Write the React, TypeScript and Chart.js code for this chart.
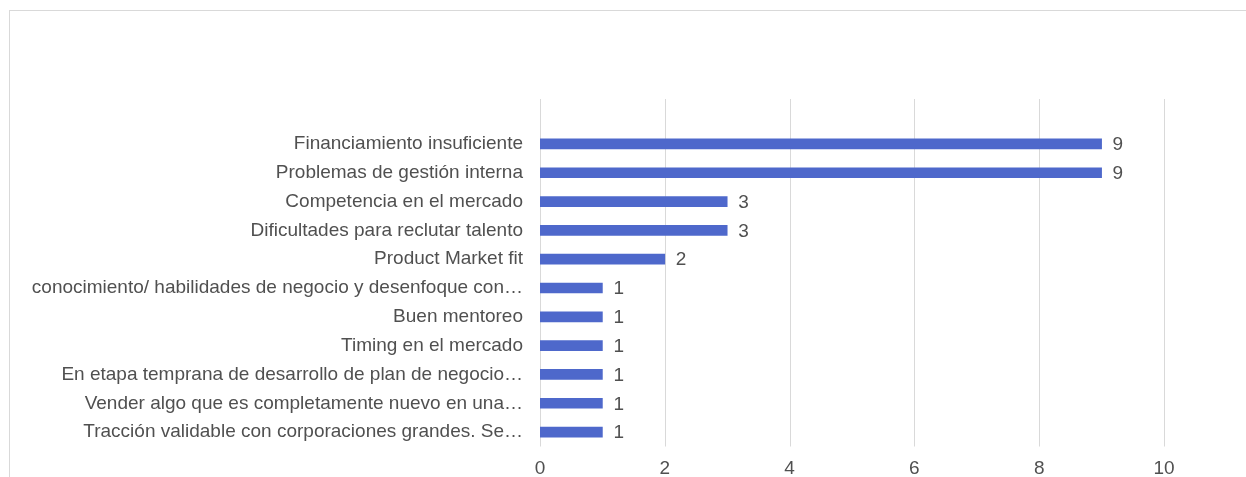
import React, { useEffect, useRef } from "react";
import { Chart, registerables } from "chart.js";

Chart.register(...registerables);

const categories: string[] = [
  "Financiamiento insuficiente",
  "Problemas de gestión interna",
  "Competencia en el mercado",
  "Dificultades para reclutar talento",
  "Product Market fit",
  "conocimiento/ habilidades de negocio y desenfoque con…",
  "Buen mentoreo",
  "Timing en el mercado",
  "En etapa temprana de desarrollo de plan de negocio…",
  "Vender algo que es completamente nuevo en una…",
  "Tracción validable con corporaciones grandes. Se…",
];

const values: number[] = [9, 9, 3, 3, 2, 1, 1, 1, 1, 1, 1];

const xTicks: number[] = [0, 2, 4, 6, 8, 10];

const FONT = "'Liberation Sans', Arial, sans-serif";
const TEXT = "#505050";
const GRID = "#d9d9d9";
const BAR = "#4e68cb";

export default function App() {
  const ref = useRef<HTMLCanvasElement | null>(null);

  useEffect(() => {
    document.body.style.margin = "0";
    const canvas = ref.current;
    if (!canvas) return;

    const framePlugin = {
      id: "frame",
      beforeDraw(chart: any) {
        const ctx = chart.ctx;
        ctx.save();
        ctx.fillStyle = "#ffffff";
        ctx.fillRect(0, 0, chart.width, chart.height);
        ctx.strokeStyle = GRID;
        ctx.lineWidth = 1;
        ctx.strokeRect(9.5, 10.5, chart.width + 20, chart.height + 20);
        ctx.restore();
      },
    };

    const gridPlugin = {
      id: "vgrid",
      beforeDatasetsDraw(chart: any) {
        const ctx = chart.ctx;
        const xs = chart.scales.x;
        const area = chart.chartArea;
        ctx.save();
        ctx.strokeStyle = GRID;
        ctx.lineWidth = 1;
        xTicks.forEach((v) => {
          const px = Math.round(xs.getPixelForValue(v)) + 0.5;
          ctx.beginPath();
          ctx.moveTo(px, 99);
          ctx.lineTo(px, area.bottom);
          ctx.stroke();
        });
        ctx.restore();
      },
    };

    const labelPlugin = {
      id: "valueLabels",
      afterDatasetsDraw(chart: any) {
        const ctx = chart.ctx;
        const meta = chart.getDatasetMeta(0);
        ctx.save();
        ctx.font = `19px ${FONT}`;
        ctx.fillStyle = TEXT;
        ctx.textAlign = "left";
        ctx.textBaseline = "middle";
        meta.data.forEach((el: any, i: number) => {
          ctx.fillText(String(values[i]), el.x + 11, el.y + 1);
        });
        ctx.restore();
      },
    };

    const chart = new Chart(canvas, {
      type: "bar",
      data: {
        labels: categories,
        datasets: [
          {
            data: values,
            backgroundColor: BAR,
            borderColor: BAR,
            borderWidth: 0,
            barThickness: 10,
          },
        ],
      },
      options: {
        indexAxis: "y",
        animation: false,
        responsive: false,
        devicePixelRatio: 1,
        layout: { padding: { top: 129.5, right: 82, bottom: 0, left: 0 } },
        plugins: {
          legend: { display: false },
          tooltip: { enabled: false },
        },
        scales: {
          x: {
            min: 0,
            max: 10,
            afterBuildTicks(scale: any) {
              scale.ticks = xTicks.map((v) => ({ value: v }));
            },
            afterFit(scale: any) {
              scale.height = 30.5;
            },
            grid: { display: false, drawTicks: false },
            border: { display: false },
            ticks: {
              padding: 11,
              color: TEXT,
              font: { family: FONT, size: 19 },
              maxRotation: 0,
            },
          },
          y: {
            afterFit(scale: any) {
              scale.width = 540;
            },
            grid: { display: false, drawTicks: false },
            border: { display: false },
            ticks: {
              autoSkip: false,
              padding: 17,
              color: TEXT,
              font: { family: FONT, size: 19 },
            },
          },
        },
      },
      plugins: [framePlugin, gridPlugin, labelPlugin],
    });

    return () => chart.destroy();
  }, []);

  return (
    <div style={{ width: 1246, height: 477 }}>
      <canvas ref={ref} width={1246} height={477} style={{ display: "block" }} />
    </div>
  );
}
